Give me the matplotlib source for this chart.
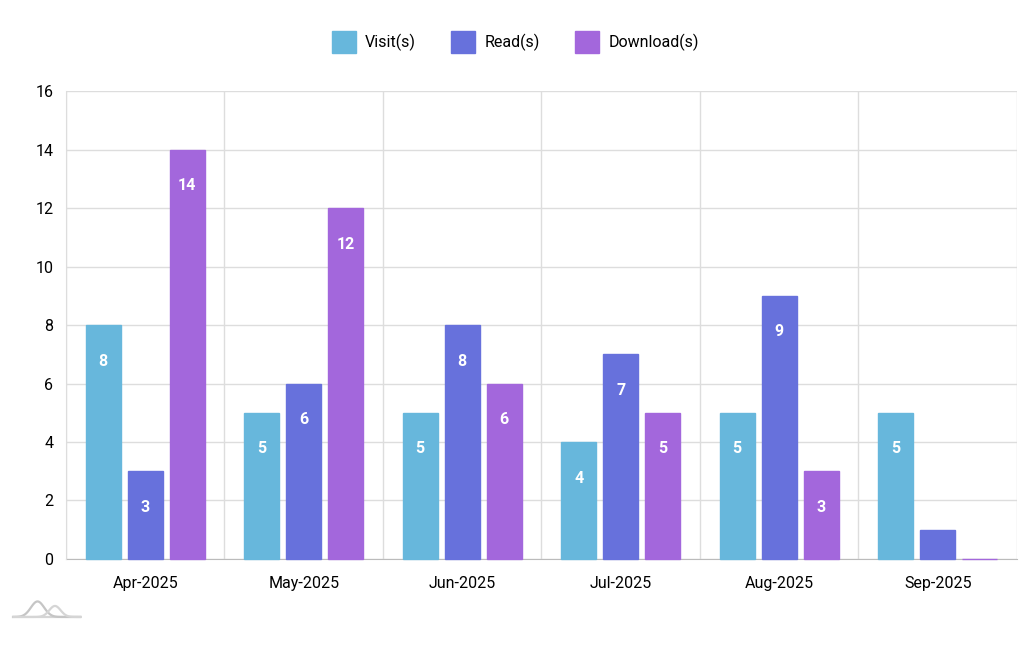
import matplotlib.pyplot as plt
import numpy as np
from matplotlib.patches import Patch
from matplotlib.lines import Line2D

months = ["Apr-2025", "May-2025", "Jun-2025", "Jul-2025", "Aug-2025", "Sep-2025"]
visits = [8, 5, 5, 4, 5, 5]
reads = [3, 6, 8, 7, 9, 1]
downloads = [14, 12, 6, 5, 3, 0]

series = [("Visit(s)", visits, "#67b7dc"),
          ("Read(s)", reads, "#6771dc"),
          ("Download(s)", downloads, "#a367dc")]

plt.rcParams['font.family'] = ['Roboto', 'DejaVu Sans']

fig = plt.figure(figsize=(10.31, 6.46), dpi=100)
ax = fig.add_axes([0.064, 0.1347, 0.9224, 0.7243])

x = np.arange(len(months))
width = 0.22
offsets = [-0.265, 0, 0.265]

for (name, vals, col), off in zip(series, offsets):
    bars = ax.bar(x + off, vals, width, color=col, edgecolor=col, linewidth=1,
                  zorder=3, clip_on=False)
    for b, v in zip(bars, vals):
        if v >= 2:
            ax.annotate(str(v), (b.get_x() + b.get_width() / 2, v), xytext=(0, -26),
                        textcoords="offset points", ha="center", va="center",
                        color="white", fontsize=11.5, fontweight="bold", zorder=4)

ax.set_xlim(-0.5, len(months) - 0.5)
ax.set_ylim(0, 16)
ax.set_yticks(range(0, 17, 2))
ax.set_xticks(x)
ax.set_xticklabels(months)
ax.set_xticks(np.arange(-0.5, len(months), 1), minor=True)
ax.grid(axis="y", color="#dddddd", linewidth=1, zorder=0)
ax.grid(axis="x", which="minor", color="#dddddd", linewidth=1, zorder=0)
ax.tick_params(axis="both", which="both", length=0, labelsize=11.5, colors="black")
ax.tick_params(axis="x", pad=12)
ax.tick_params(axis="y", pad=9)
for s in ["top", "right"]:
    ax.spines[s].set_visible(False)
ax.spines["left"].set_color("#dddddd")
ax.spines["bottom"].set_color("#bbbbbb")
ax.spines["bottom"].set_zorder(2)

# legend at top
handles = [Patch(facecolor=c, edgecolor=c) for _, _, c in series]
fig.legend(handles, [n for n, _, _ in series], loc="center", bbox_to_anchor=(0.5, 0.935),
           ncol=3, frameon=False, fontsize=11.5, handlelength=1.5, handleheight=1.7,
           handletextpad=0.6, columnspacing=2.2)

# small logo bottom-left
lx = np.linspace(0, 1, 80)
fig.add_artist(Line2D(0.013 + 0.065 * lx, [0.045] * 80, color="#d5d5d5", lw=1.6,
                      transform=fig.transFigure))
h1 = 0.045 + 0.024 * np.exp(-((lx - 0.36) / 0.14) ** 2)
h2 = 0.045 + 0.017 * np.exp(-((lx - 0.62) / 0.12) ** 2)
fig.add_artist(Line2D(0.013 + 0.065 * lx, h1, color="#c5c5c5", lw=1.6, transform=fig.transFigure))
fig.add_artist(Line2D(0.013 + 0.065 * lx, h2, color="#d5d5d5", lw=1.6, transform=fig.transFigure))

fig.savefig("out.png", dpi=100)
